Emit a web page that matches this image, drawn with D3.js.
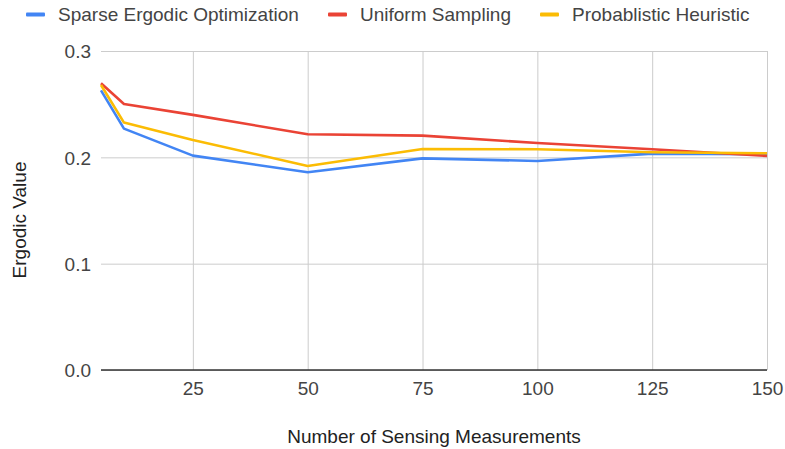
<!DOCTYPE html>
<html>
<head>
<meta charset="utf-8">
<script src="https://cdn.jsdelivr.net/npm/d3@7/dist/d3.min.js"></script>
<style>
  html, body { margin: 0; padding: 0; background: #fff; }
  svg { display: block; font-family: "Liberation Sans", Arial, sans-serif; }
</style>
</head>
<body>
<svg id="chart" width="785" height="449"></svg>
<script>
// Sensing budget (x) and ergodic value of each planning strategy
const measurements = [5, 10, 25, 50, 75, 100, 125, 150];
const sparseErgodic = [0.263, 0.227, 0.2016, 0.186, 0.199, 0.1966, 0.2035, 0.203];
const uniformSampling = [0.2697, 0.2502, 0.2399, 0.2217, 0.2204, 0.2135, 0.2076, 0.2013];
const probHeuristic = [0.268, 0.2327, 0.2164, 0.1919, 0.2079, 0.2076, 0.2048, 0.2038];

const seriesNames = ["Sparse Ergodic Optimization", "Uniform Sampling", "Probablistic Heuristic"];
const seriesColors = ["#4285F4", "#EA4335", "#FBBC04"];
const seriesValues = [sparseErgodic, uniformSampling, probHeuristic];

const xTicks = [25, 50, 75, 100, 125, 150];
const yTicks = [0.0, 0.1, 0.2, 0.3];

const FONT = 19;
const svg = d3.select("#chart");
const plot = { left: 101, right: 767, top: 51, bottom: 370 };

const x = d3.scaleLinear().domain([5, 150]).range([plot.left, plot.right]);
const y = d3.scaleLinear().domain([0, 0.3]).range([plot.bottom, plot.top]);

// Horizontal gridlines and y labels
const yAxis = d3.axisLeft(y).tickValues(yTicks).tickFormat(d3.format(".1f"))
  .tickSize(-(plot.right - plot.left)).tickPadding(10);
const gy = svg.append("g").attr("transform", `translate(${plot.left},0)`).call(yAxis);
gy.select(".domain").remove();
gy.selectAll(".tick line").attr("stroke", "#cccccc").attr("stroke-width", 1);
gy.selectAll(".tick text").attr("fill", "#444").attr("font-size", FONT)
  .attr("font-family", "Liberation Sans, Arial, sans-serif").attr("dy", "0.36em");

// Vertical gridlines and x labels
const xAxis = d3.axisBottom(x).tickValues(xTicks).tickFormat(d3.format("d"))
  .tickSize(-(plot.bottom - plot.top)).tickPadding(12);
const gx = svg.append("g").attr("transform", `translate(0,${plot.bottom})`).call(xAxis);
gx.select(".domain").remove();
gx.selectAll(".tick line").attr("stroke", "#cccccc").attr("stroke-width", 1);
gx.selectAll(".tick text").attr("fill", "#444").attr("font-size", FONT)
  .attr("font-family", "Liberation Sans, Arial, sans-serif");

// Baseline at zero
svg.append("line")
  .attr("x1", plot.left).attr("x2", plot.right)
  .attr("y1", y(0)).attr("y2", y(0))
  .attr("stroke", "#333").attr("stroke-width", 1.5);

// Series lines
const line = d3.line().x((d, i) => x(measurements[i])).y(d => y(d));
seriesValues.forEach((vals, k) => {
  svg.append("path")
    .datum(vals)
    .attr("d", line)
    .attr("fill", "none")
    .attr("stroke", seriesColors[k])
    .attr("stroke-width", 2.6)
    .attr("stroke-linejoin", "round");
});

// Legend
const legendX = [26, 328, 540];
seriesNames.forEach((name, k) => {
  svg.append("rect")
    .attr("x", legendX[k]).attr("y", 12.5)
    .attr("width", 19).attr("height", 4).attr("rx", 1)
    .attr("fill", seriesColors[k]);
  svg.append("text")
    .attr("x", legendX[k] + 32).attr("y", 21)
    .attr("font-size", FONT).attr("fill", "#444")
    .text(name);
});

// Axis titles
svg.append("text")
  .attr("x", (plot.left + plot.right) / 2).attr("y", 443)
  .attr("text-anchor", "middle").attr("font-size", FONT).attr("fill", "#222")
  .text("Number of Sensing Measurements");

svg.append("text")
  .attr("transform", "translate(26,220) rotate(-90)")
  .attr("text-anchor", "middle").attr("font-size", FONT).attr("fill", "#222")
  .text("Ergodic Value");
</script>
</body>
</html>
